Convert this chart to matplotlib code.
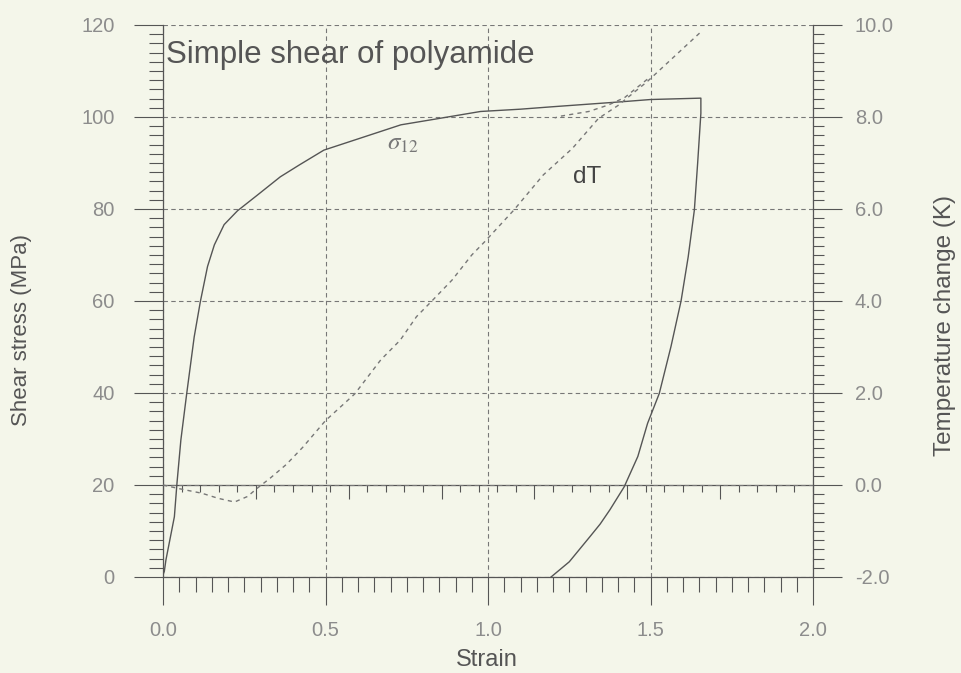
import numpy as np
import matplotlib
matplotlib.use('Agg')
import matplotlib.pyplot as plt
from matplotlib.ticker import MultipleLocator, FormatStrFormatter, NullFormatter

plt.rcParams['font.family'] = ['Liberation Sans', 'DejaVu Sans']

# stress-strain, loading branch
strain_up = [0.0, 0.004, 0.009, 0.035, 0.043, 0.055, 0.073, 0.096, 0.115, 0.137, 0.158,
             0.188, 0.229, 0.29, 0.361, 0.42, 0.495, 0.732, 0.834, 0.977, 1.10, 1.193,
             1.409, 1.50, 1.655]
stress_up = [0.5, 1.2, 3.7, 13.1, 20.4, 29.8, 39.9, 52.2, 59.9, 67.5, 72.2,
             76.6, 79.6, 83.0, 87.0, 89.6, 92.8, 98.3, 99.5, 101.2, 101.7, 102.2,
             103.3, 103.8, 104.1]
# unloading branch
strain_down = [1.655, 1.645, 1.635, 1.616, 1.594, 1.563, 1.527, 1.491, 1.461, 1.419,
               1.375, 1.345, 1.314, 1.25, 1.194]
stress_down = [100.8, 89.9, 79.8, 69.6, 60.0, 50.1, 39.9, 33.4, 26.2, 19.6,
               14.6, 11.5, 8.8, 3.3, 0.0]

# temperature change
strain_dT = [0.0, 0.05, 0.12, 0.17, 0.22, 0.26, 0.29, 0.33, 0.38, 0.43, 0.50, 0.59,
             0.67, 0.73, 0.78, 0.83, 0.89, 0.95, 0.99, 1.08, 1.17, 1.26, 1.34, 1.40,
             1.49, 1.655]
dT = [0.0, -0.08, -0.18, -0.29, -0.37, -0.25, -0.07, 0.15, 0.45, 0.82, 1.40, 1.98,
      2.72, 3.15, 3.66, 4.02, 4.46, 5.0, 5.29, 5.98, 6.74, 7.32, 7.97, 8.25,
      8.77, 9.85]
strain_dT_back = [1.49, 1.42, 1.37, 1.31, 1.225, 1.205]
dT_back = [8.82, 8.42, 8.26, 8.12, 8.02, 7.98]

bg = '#f4f6ea'
ink = '#555555'
lab = '#8c8c8c'

fig = plt.figure(figsize=(9.61, 6.73), dpi=100, facecolor=bg)
ax = fig.add_axes([163/961, 1-577/673, 650/961, 552/673])
ax.set_facecolor(bg)

ax.plot(strain_up + strain_down, stress_up + stress_down, color=ink, lw=1.0, zorder=5)

ax.set_xlim(0, 2.0)
ax.set_ylim(0, 120)
ax.xaxis.set_major_locator(MultipleLocator(0.5))
ax.xaxis.set_minor_locator(MultipleLocator(0.05))
ax.xaxis.set_major_formatter(FormatStrFormatter('%.1f'))
ax.yaxis.set_major_locator(MultipleLocator(20))
ax.yaxis.set_minor_locator(MultipleLocator(2))

ax.grid(True, which='major', color='#777777', lw=0.8, linestyle=(0, (4, 3)))
for s in ['top', 'right']:
    ax.spines[s].set_visible(False)
for s in ['left', 'bottom']:
    ax.spines[s].set_color(ink)
    ax.spines[s].set_linewidth(0.9)

ax.tick_params(axis='both', which='both', direction='out', color=ink, width=0.8,
               labelcolor=lab, labelsize=14.5)
ax.tick_params(axis='y', which='major', length=21, pad=14)
ax.tick_params(axis='y', which='minor', length=10)
ax.tick_params(axis='x', which='major', length=20, pad=12)
ax.tick_params(axis='x', which='minor', length=11)

# zero line of the temperature scale with its own ticks
sec = ax.secondary_xaxis(20/120, functions=(lambda s: s * 3.5, lambda t: t / 3.5))
sec.xaxis.set_major_locator(MultipleLocator(1))
sec.xaxis.set_minor_locator(MultipleLocator(0.2))
sec.xaxis.set_major_formatter(NullFormatter())
sec.tick_params(which='both', direction='out', color=ink, width=0.8)
sec.tick_params(which='major', length=10)
sec.tick_params(which='minor', length=5)
sec.spines['bottom'].set_color(ink)
sec.spines['bottom'].set_linewidth(0.9)

ax2 = ax.twinx()
ax2.plot(strain_dT, dT, color='#777777', lw=1.0, linestyle=(0, (3, 3)), zorder=5)
ax2.plot(strain_dT_back, dT_back, color='#777777', lw=1.0, linestyle=(0, (3, 3)), zorder=5)
ax2.set_ylim(-2, 10)
ax2.yaxis.set_major_locator(MultipleLocator(2))
ax2.yaxis.set_minor_locator(MultipleLocator(0.2))
ax2.yaxis.set_major_formatter(FormatStrFormatter('%.1f'))
for s in ['top', 'left', 'bottom']:
    ax2.spines[s].set_visible(False)
ax2.spines['right'].set_color(ink)
ax2.spines['right'].set_linewidth(0.9)
ax2.tick_params(axis='y', which='both', direction='out', color=ink, width=0.8,
                labelcolor=lab, labelsize=14.5)
ax2.tick_params(axis='y', which='major', length=21, pad=9)
ax2.tick_params(axis='y', which='minor', length=8)

ax.set_xlabel('Strain', fontsize=17, color=ink)
ax.xaxis.label.set_va('center')
ax.xaxis.set_label_coords(0.498, -0.150)
ax.set_ylabel('Shear stress (MPa)', fontsize=16, color=ink)
ax.yaxis.label.set_va('center')
ax.yaxis.set_label_coords(-0.217, 0.447)
ax2.set_ylabel('Temperature change (K)', fontsize=17.5, color=ink)
ax2.yaxis.label.set_va('center')
ax2.yaxis.set_label_coords(1.203, 0.456)

ax.text(0.008, 111.8, 'Simple shear of polyamide', fontsize=22.5, color=ink, va='baseline')
ax.text(0.69, 92.8, r'$\sigma_{12}$', fontsize=18, color='#777777', va='baseline',
        math_fontfamily='stix')
ax.text(1.261, 85.7, 'dT', fontsize=17.5, color='#444444', va='baseline')

fig.savefig('out.png', dpi=100, facecolor=bg)
